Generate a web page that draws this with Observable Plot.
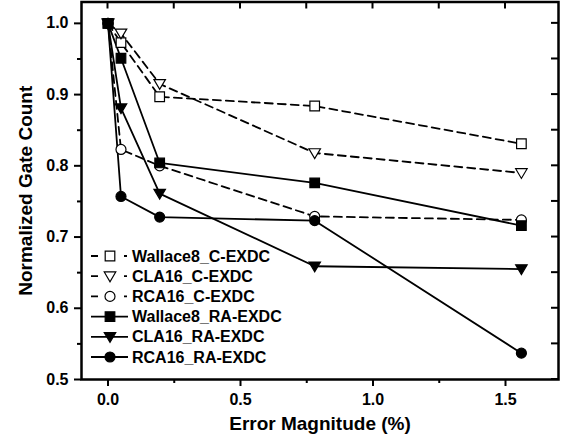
<!DOCTYPE html>
<html>
<head>
<meta charset="utf-8">
<script src="https://cdn.jsdelivr.net/npm/d3@7"></script>
<script src="https://cdn.jsdelivr.net/npm/@observablehq/plot@0.6"></script>
<style>
  html, body { margin: 0; padding: 0; background: white; }
  #chart svg { display: block; }
</style>
</head>
<body>
<div id="chart"></div>
<script>
// ---- data ----
const errorMagnitude = [0, 0.049, 0.195, 0.78, 1.56];
const seriesNames = ["Wallace8_C-EXDC", "CLA16_C-EXDC", "RCA16_C-EXDC", "Wallace8_RA-EXDC", "CLA16_RA-EXDC", "RCA16_RA-EXDC"];
const wallace8C  = [1.0, 0.973, 0.897, 0.884, 0.831];
const cla16C     = [1.0, 0.986, 0.915, 0.818, 0.790];
const rca16C     = [1.0, 0.823, 0.800, 0.729, 0.724];
const wallace8RA = [1.0, 0.951, 0.804, 0.776, 0.716];
const cla16RA    = [1.0, 0.881, 0.761, 0.659, 0.655];
const rca16RA    = [1.0, 0.757, 0.728, 0.723, 0.537];
const xMajorTicks = [0, 0.5, 1.0, 1.5];
const xMinorTicks = [0.25, 0.75, 1.25];
const yMajorTicks = [0.5, 0.6, 0.7, 0.8, 0.9, 1.0];
const yMinorTicks = [0.55, 0.65, 0.75, 0.85, 0.95];

// ---- symbols ----
const symSquare = {draw(ctx, size) { const r = Math.sqrt(size / Math.PI); ctx.moveTo(-r, -r); ctx.lineTo(r, -r); ctx.lineTo(r, r); ctx.lineTo(-r, r); ctx.closePath(); }};
const symCircle = {draw(ctx, size) { const r = Math.sqrt(size / Math.PI); ctx.moveTo(r, 0); ctx.arc(0, 0, r, 0, 2 * Math.PI); ctx.closePath(); }};
const symTriDown = {draw(ctx, size) { const r = Math.sqrt(size / Math.PI); ctx.moveTo(-1.15 * r, -0.85 * r); ctx.lineTo(1.15 * r, -0.85 * r); ctx.lineTo(0, 1.1 * r); ctx.closePath(); }};

const seriesValues = [wallace8C, cla16C, rca16C, wallace8RA, cla16RA, rca16RA];
const seriesSymbols = [symSquare, symTriDown, symCircle, symSquare, symTriDown, symCircle];
const seriesFilled = [false, false, false, true, true, true];
const seriesR = [4.8, 5, 5, 4.8, 5, 5];
const dash = "8,5";
const legendDash = "7,26,3";

const rows = [];
seriesNames.forEach((name, i) => {
  seriesValues[i].forEach((v, j) => rows.push({series: name, x: errorMagnitude[j], y: v}));
});

const font = "'Liberation Sans', Arial, Helvetica, sans-serif";

const marks = [];
seriesNames.forEach((name, i) => {
  marks.push(Plot.line(rows.filter(d => d.series === name), {
    x: "x", y: "y", stroke: "black", strokeWidth: 1.8,
    strokeDasharray: seriesFilled[i] ? null : dash
  }));
});
seriesNames.forEach((name, i) => {
  marks.push(Plot.dot(rows.filter(d => d.series === name), {
    x: "x", y: "y", r: seriesR[i], symbol: seriesSymbols[i],
    fill: seriesFilled[i] ? "black" : "white", stroke: "black", strokeWidth: 1.2
  }));
});

const chart = Plot.plot({
  width: 568,
  height: 437,
  marginLeft: 81,
  marginRight: 10,
  marginTop: 1.5,
  marginBottom: 58,
  style: {fontFamily: font, fontWeight: "bold", fontSize: "16px", background: "white", color: "black"},
  x: {domain: [-0.1, 1.7]},
  y: {domain: [0.5, 1.03]},
  marks: [
    ...marks,
    Plot.axisX(xMajorTicks, {anchor: "bottom", tickSize: 7, tickPadding: 7, strokeWidth: 2, fontSize: 16, fontWeight: "bold", tickFormat: d3.format(".1f"), label: null}),
    Plot.axisX(xMinorTicks, {anchor: "bottom", tickSize: 4, strokeWidth: 2, fill: "none", label: null}),
    Plot.axisY(yMajorTicks, {anchor: "left", tickSize: 7, tickPadding: 6, strokeWidth: 2, fontSize: 16, fontWeight: "bold", tickFormat: d3.format(".1f"), label: null}),
    Plot.axisY(yMinorTicks, {anchor: "left", tickSize: 4, strokeWidth: 2, fill: "none", label: null}),
    Plot.text(["Error Magnitude (%)"], {frameAnchor: "bottom", dy: 44, text: d => d, fontSize: 19, fontWeight: "bold", lineAnchor: "middle", textAnchor: "middle"}),
    Plot.text(["Normalized Gate Count"], {frameAnchor: "left", dx: -56, text: d => d, fontSize: 19, fontWeight: "bold", rotate: -90, lineAnchor: "middle", textAnchor: "middle"}),
    Plot.frame({stroke: "black", strokeWidth: 2.5})
  ]
});

document.getElementById("chart").appendChild(chart);

// mirror ticks (top & right, inward) using the plot's scales
const sx = chart.scale("x"), sy = chart.scale("y");
const svg = d3.select(chart);
const frameTop = sy.apply(1.03), frameRight = sx.apply(1.7);
const g = svg.append("g").attr("stroke", "black").attr("stroke-width", 2);
[...xMajorTicks, ...xMinorTicks].forEach(t => {
  const px = sx.apply(t);
  g.append("line").attr("x1", px).attr("x2", px).attr("y1", frameTop).attr("y2", frameTop + 7);
});
[...yMajorTicks, ...yMinorTicks].forEach(t => {
  const py = sy.apply(t);
  g.append("line").attr("x1", frameRight).attr("x2", frameRight - 7).attr("y1", py).attr("y2", py);
});

// legend
const lg = svg.append("g").attr("text-anchor", "start");
const legendX0 = 91, legendX1 = 128, legendSym = 110, legendText = 132, legendY0 = 256, legendStep = 20.2;
seriesNames.forEach((name, i) => {
  const y = legendY0 + i * legendStep;
  lg.append("line").attr("x1", legendX0).attr("x2", legendX1).attr("y1", y).attr("y2", y)
    .attr("stroke", "black").attr("stroke-width", 1.8)
    .attr("stroke-dasharray", seriesFilled[i] ? null : legendDash);
  const p = d3.path();
  seriesSymbols[i].draw(p, Math.PI * seriesR[i] * seriesR[i]);
  lg.append("path").attr("d", p.toString()).attr("transform", `translate(${legendSym},${y})`)
    .attr("fill", seriesFilled[i] ? "black" : "white").attr("stroke", "black").attr("stroke-width", 1.2);
  lg.append("text").attr("x", legendText).attr("y", y).attr("dy", "0.35em")
    .attr("text-anchor", "start")
    .attr("font-size", 16).attr("font-weight", "bold").attr("font-family", font).attr("fill", "black")
    .text(name);
});
</script>
</body>
</html>
